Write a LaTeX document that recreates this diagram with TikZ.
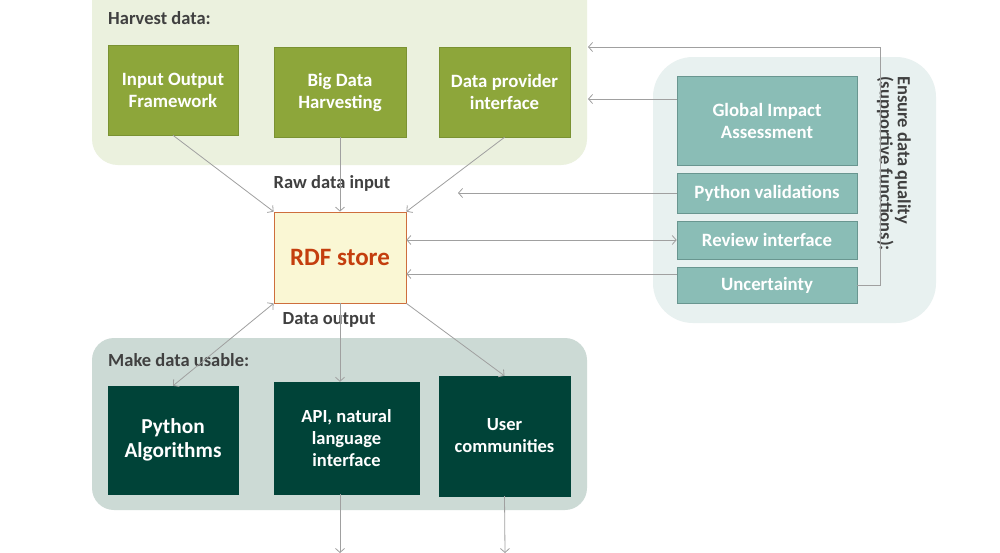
\documentclass[tikz,border=0pt]{standalone}
\usepackage{fontspec}
\setmainfont{Carlito}
\usetikzlibrary{arrows.meta}
\definecolor{harvbg}{RGB}{235,241,222}
\definecolor{olivebox}{RGB}{141,166,58}
\definecolor{oliveline}{RGB}{122,146,50}
\definecolor{usebg}{RGB}{204,218,213}
\definecolor{darkgr}{RGB}{0,67,56}
\definecolor{qualbg}{RGB}{232,241,240}
\definecolor{tealbox}{RGB}{138,189,182}
\definecolor{tealline}{RGB}{105,150,144}
\definecolor{rdffill}{RGB}{250,247,212}
\definecolor{rdfline}{RGB}{206,110,60}
\definecolor{rdftext}{RGB}{196,62,14}
\definecolor{conngray}{RGB}{160,160,160}
\definecolor{labgray}{RGB}{64,64,64}
\tikzset{
  boxolive/.style={draw=oliveline, fill=olivebox, text=white, font=\fontsize{18.8}{22}\selectfont\bfseries, align=center, inner sep=0pt, line width=0.6pt},
  boxdark/.style={draw=darkgr, fill=darkgr, text=white, font=\fontsize{18.5}{22}\selectfont\bfseries, align=center, inner sep=0pt},
  boxteal/.style={draw=tealline, fill=tealbox, text=white, font=\fontsize{18.8}{22}\selectfont\bfseries, align=center, inner sep=0pt, line width=0.6pt},
  grouplabel/.style={text=labgray, font=\fontsize{18.5}{20}\selectfont\bfseries, inner sep=0pt},
  conn/.style={draw=conngray, line width=0.8pt, arrows={-{Straight Barb[length=4pt,width=9pt]}}},
  conn2/.style={draw=conngray, line width=0.8pt, arrows={{Straight Barb[length=4pt,width=9pt]}-{Straight Barb[length=4pt,width=9pt]}}}
}
\begin{document}
\begin{tikzpicture}[x=1pt,y=-1pt]
\useasboundingbox (0,0) rectangle (1000,552);
\fill[white] (0,0) rectangle (1000,552);
% containers
\fill[harvbg, rounded corners=26pt] (92,-40) rectangle (587,165);
\fill[usebg, rounded corners=22pt] (92,338) rectangle (587,510);
\fill[qualbg, rounded corners=40pt] (653,57) rectangle (936,323);
% group labels
\node[grouplabel, anchor=west] (hlab) at (108,18) {Harvest data:};
\node[grouplabel, anchor=west] (ulab) at (108,360) {Make data usable:};
\node[grouplabel] (rawlab) at (332,183) {Raw data input};
\node[grouplabel] (outlab) at (329,320) {Data output};
\node[text=labgray, font=\fontsize{18.5}{18}\selectfont\bfseries, rotate=-90, anchor=north west, align=left, inner sep=0pt] (qlab) at (911,76) {Ensure data quality\\(supportive functions):};
% harvest boxes
\node[boxolive, minimum width=130pt, minimum height=90pt] (iof) at (173,90) {Input Output\\Framework};
\node[boxolive, minimum width=132pt, minimum height=90pt] (bdh) at (340,92) {Big Data\\Harvesting};
\node[boxolive, minimum width=131pt, minimum height=90pt] (dpi) at (504.5,92) {Data provider\\interface};
% RDF store
\node[draw=rdfline, fill=rdffill, text=rdftext, font=\fontsize{25}{28}\selectfont\bfseries, minimum width=132pt, minimum height=91pt, inner sep=0pt, line width=0.8pt] (rdf) at (340,257.5) {RDF store};
% usable boxes
\node[boxdark, font=\fontsize{21.3}{24}\selectfont\bfseries, minimum width=130pt, minimum height=108pt] (pa) at (173,440) {Python\\Algorithms};
\node[boxdark, minimum width=145pt, minimum height=112pt] (api) at (346.5,438) {API, natural\\language\\interface};
\node[boxdark, minimum width=131pt, minimum height=120pt] (uc) at (504.5,436) {User\\communities};
% quality boxes
\node[boxteal, minimum width=180pt, minimum height=89pt] (gia) at (767,120.5) {Global Impact\\Assessment};
\node[boxteal, minimum width=180pt, minimum height=40pt] (pv) at (767,193) {Python validations};
\node[boxteal, minimum width=180pt, minimum height=38pt] (ri) at (767,240) {Review interface};
\node[boxteal, minimum width=180pt, minimum height=36pt] (unc) at (767,285) {Uncertainty};
% coordinates
\coordinate (apiout) at (340,553);
\coordinate (ucout) at (505,553);
\coordinate (tr) at (880,285);
\coordinate (tt) at (880,47);
\coordinate (hend1) at (588,47);
\coordinate (hend2) at (588,99);
\coordinate (pvend) at (458,193);
% connectors
\draw[conn] (iof.south) -- (rdf.north west);
\draw[conn] (bdh.south) -- (rdf.north);
\draw[conn] (dpi.south) -- (rdf.north east);
\draw[conn2] (pa.north) -- (rdf.south west);
\draw[conn] (rdf.south) -- (rdf.south |- api.north);
\draw[conn] (rdf.south east) -- (uc.north);
\draw[conn] (rdf.south |- api.south) -- (apiout);
\draw[conn] (uc.south) -- (ucout);
\draw[conn] (unc.east) -- (tr) -- (tt) -- (hend1);
\draw[conn] (gia.west |- hend2) -- (hend2);
\draw[conn] (pv.west) -- (pvend);
\draw[conn2] (ri.west -| rdf.east) -- (ri.west);
\draw[conn] (unc.west |- 0,274) -- (rdf.east |- 0,274);
\end{tikzpicture}
\end{document}
